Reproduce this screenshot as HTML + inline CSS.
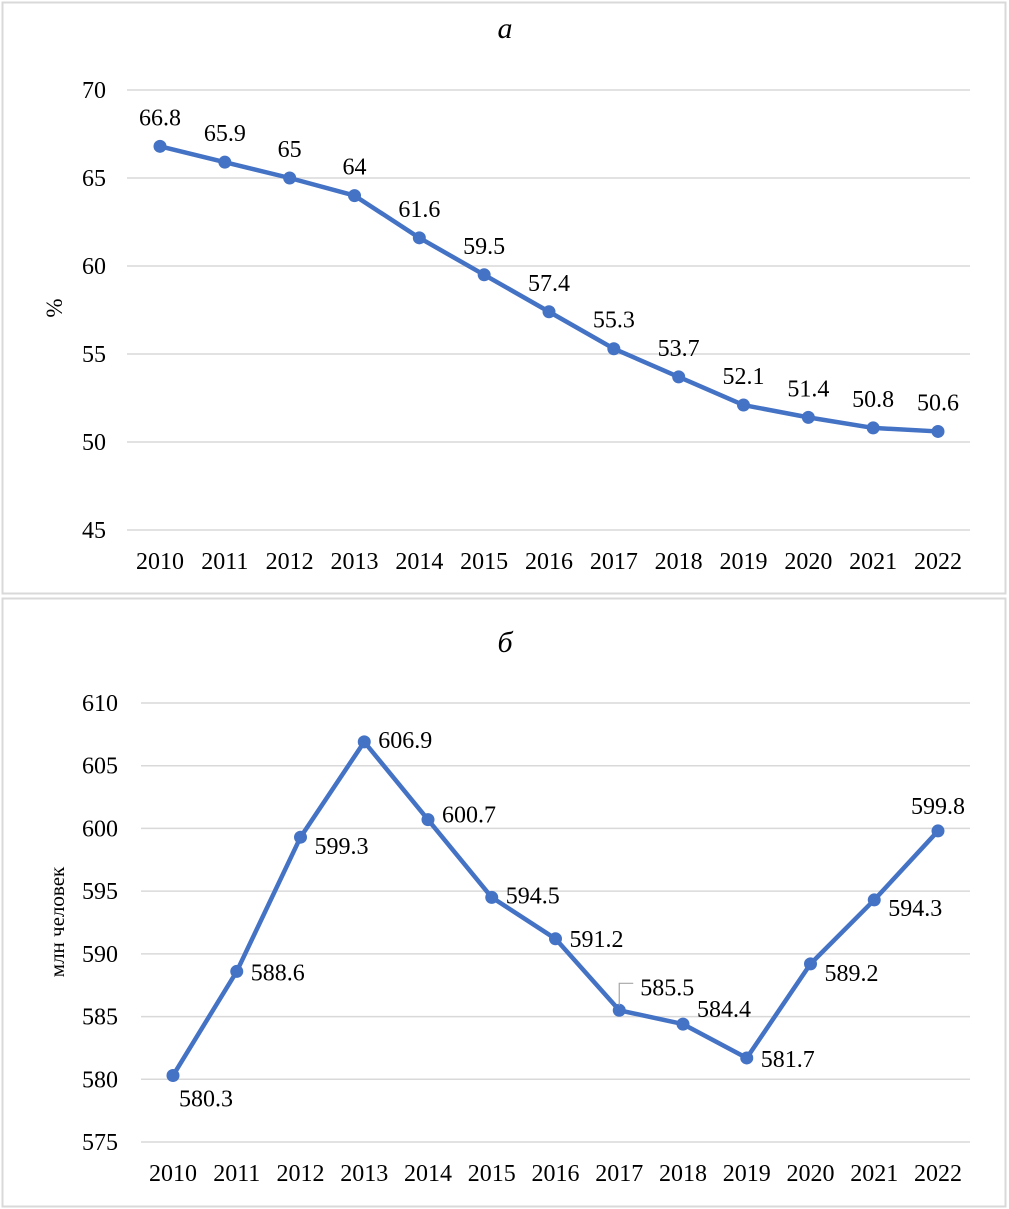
<!DOCTYPE html>
<html><head><meta charset="utf-8">
<style>
html,body{margin:0;padding:0;background:#fff;}
svg{display:block;font-family:"Liberation Serif",serif;}
</style></head>
<body>
<svg id="svg" width="1009" height="1209" xmlns="http://www.w3.org/2000/svg">
<rect x="2.5" y="2.5" width="1003" height="591" fill="none" stroke="#d9d9d9" stroke-width="2"/>
<rect x="2.5" y="598.5" width="1003" height="608" fill="none" stroke="#d9d9d9" stroke-width="2"/>
<text x="505" y="38" font-size="30" font-style="italic" text-anchor="middle">а</text>
<text x="505" y="652" font-size="30" font-style="italic" text-anchor="middle">б</text>
<text transform="translate(62,308) rotate(-90)" font-size="23" text-anchor="middle">%</text>
<text transform="translate(64,922) rotate(-90)" font-size="21" text-anchor="middle">млн человек</text>
<g id="ga"></g><g id="gb"></g>
</svg>
<script>
const years = ["2010","2011","2012","2013","2014","2015","2016","2017","2018","2019","2020","2021","2022"];
const shareValues = [66.8,65.9,65,64,61.6,59.5,57.4,55.3,53.7,52.1,51.4,50.8,50.6];
const shareTicks = [45,50,55,60,65,70];
const popValues = [580.3,588.6,599.3,606.9,600.7,594.5,591.2,585.5,584.4,581.7,589.2,594.3,599.8];
const popTicks = [575,580,585,590,595,600,605,610];

const NS="http://www.w3.org/2000/svg";
function mk(tag,attrs,parent,txt){const e=document.createElementNS(NS,tag);for(const k in attrs)e.setAttribute(k,attrs[k]);if(txt!==undefined)e.textContent=txt;parent.appendChild(e);return e;}

function chart(g,vals,ticks,cfg){
  const y=v=>cfg.y0+(v-ticks[0])/(ticks[ticks.length-1]-ticks[0])*(cfg.y1-cfg.y0);
  const x=i=>cfg.x0+i*(cfg.x1-cfg.x0)/(years.length-1);
  ticks.forEach(t=>{
    const l=mk('line',{x1:cfg.gx0,x2:cfg.gx1,y1:y(t),y2:y(t),stroke:'#d9d9d9','stroke-width':1.5},g);
    
    
    const tx=mk('text',{x:cfg.tickX,y:y(t)+8,'font-size':24,'text-anchor':'end'},g,String(t));
    
    
  });
  years.forEach((yr,i)=>{
    const tx=mk('text',{x:x(i),y:cfg.xlabY,'font-size':24,'text-anchor':'middle'},g,yr);
    
    
  });
  const pts=vals.map((v,i)=>x(i)+','+y(v)).join(' ');
  const pl=mk('polyline',{points:pts,fill:'none',stroke:'#4472c4','stroke-width':4.5,'stroke-linejoin':'round'},g);
  
  
  vals.forEach((v,i)=>{
    const c=mk('circle',{cx:x(i),cy:y(v),r:6.5,fill:'#4472c4'},g);
    
    
    const o=cfg.lab(i);
    if(o.leader){
      const ld=mk('polyline',{points:`${x(i)},${y(v)-5} ${x(i)},${y(v)-27} ${x(i)+14},${y(v)-27}`,fill:'none',stroke:'#a6a6a6','stroke-width':1.2},g);
      
      
    }
    const t=mk('text',{x:x(i)+o.dx,y:y(v)+o.dy,'font-size':24,'text-anchor':o.a},g,String(v));
    
    
  });
}
chart(document.getElementById('ga'),shareValues,shareTicks,{y0:530,y1:90,x0:160,x1:938,gx0:127,gx1:970,tickX:106,xlabY:569,
  lab:i=>({dx:0,dy:-21,a:'middle'})});
const offB=[[6,31,'start'],[14,9,'start'],[14,17,'start'],[14,6,'start'],[14,3,'start'],[14,6,'start'],[14,8,'start'],[21,-15,'start',1],[14,-7,'start'],[14,9,'start'],[14,17,'start'],[14,16,'start'],[0,-17,'middle']];
chart(document.getElementById('gb'),popValues,popTicks,{y0:1142,y1:703,x0:173,x1:938,gx0:141,gx1:970,tickX:118,xlabY:1181,
  lab:i=>({dx:offB[i][0],dy:offB[i][1],a:offB[i][2],leader:!!offB[i][3]})});
</script>
</body></html>
